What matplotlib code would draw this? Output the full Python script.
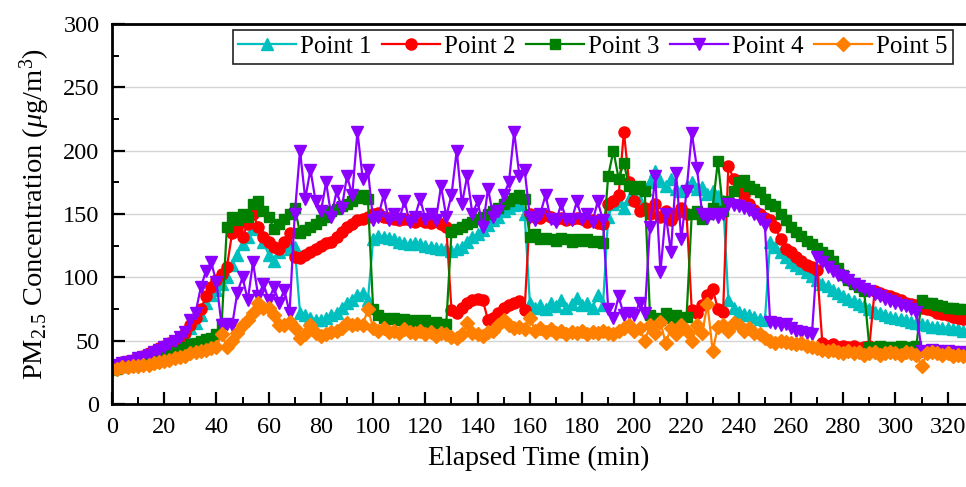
import matplotlib
matplotlib.use('Agg')
import matplotlib.pyplot as plt
from matplotlib.ticker import MultipleLocator
import numpy as np

plt.rcParams['font.family'] = ['Liberation Serif', 'DejaVu Serif']
plt.rcParams['mathtext.fontset'] = 'custom'
plt.rcParams['mathtext.rm'] = 'Liberation Serif'
plt.rcParams['mathtext.it'] = 'Liberation Serif:italic'

# time axis, one reading every 2 min
t = np.arange(0, 328, 2)

# PM2.5 readings (ug/m3)
point1 = [28, 29, 30, 31, 32, 33, 35, 36, 38, 40,
          42, 44, 47, 50, 55, 60, 64, 70, 80, 86,
          90, 95, 100, 110, 118, 126, 132, 138, 140, 128,
          118, 113, 120, 125, 122, 124, 72, 70, 68, 66,
          66, 68, 70, 72, 76, 80, 82, 86, 88, 82,
          130, 133, 132, 131, 130, 128, 127, 126, 127, 126,
          125, 124, 123, 122, 122, 121, 122, 124, 128, 132,
          134, 137, 141, 145, 148, 152, 155, 157, 158, 150,
          80, 76, 78, 75, 80, 77, 82, 76, 79, 84,
          78, 80, 76, 86, 78, 148, 158, 160, 155, 162,
          165, 160, 170, 175, 184, 176, 172, 178, 170, 168,
          172, 175, 170, 171, 166, 168, 164, 160, 82, 76,
          73, 71, 70, 69, 67, 66, 128, 124, 120, 116,
          112, 110, 107, 104, 101, 98, 95, 93, 90, 88,
          85, 83, 81, 79, 77, 75, 73, 72, 70, 69,
          68, 67, 66, 65, 64, 63, 62, 61, 61, 60,
          60, 59, 59, 58]

point2 = [30, 31, 33, 34, 35, 36, 38, 40, 42, 44,
          46, 48, 50, 53, 56, 62, 68, 75, 85, 92,
          98, 103, 108, 135, 138, 132, 142, 150, 140, 132,
          128, 124, 122, 128, 135, 116, 115, 118, 120, 122,
          125, 127, 128, 132, 136, 140, 142, 145, 146, 148,
          150, 151, 148, 147, 146, 145, 146, 145, 144, 145,
          144, 143, 145, 142, 140, 74, 72, 76, 80, 82,
          83, 82, 66, 68, 72, 76, 78, 80, 81, 74,
          150, 148, 147, 149, 148, 146, 147, 145, 146, 147,
          146, 144, 145, 143, 142, 158, 160, 165, 215, 175,
          160, 152, 155, 150, 158, 148, 152, 145, 150, 155,
          150, 74, 72, 78, 86, 91, 75, 73, 188, 178,
          172, 165, 158, 153, 150, 147, 145, 140, 130, 122,
          120, 116, 113, 110, 108, 106, 48, 46, 47, 45,
          46, 45, 46, 44, 45, 46, 89, 88, 86, 85,
          84, 82, 80, 79, 78, 76, 75, 74, 72, 71,
          70, 69, 68, 67]

point3 = [28, 28, 29, 30, 30, 31, 32, 33, 34, 36,
          37, 39, 41, 43, 45, 47, 48, 50, 51, 52,
          55, 63, 140, 148, 145, 150, 148, 158, 160, 152,
          148, 138, 142, 146, 150, 155, 135, 137, 140, 142,
          145, 148, 152, 154, 156, 158, 160, 163, 165, 162,
          75, 70, 68, 67, 68, 66, 67, 65, 66, 65,
          66, 64, 65, 63, 63, 136, 138, 140, 142, 144,
          146, 148, 150, 152, 155, 158, 160, 163, 165, 162,
          132, 134, 130, 131, 130, 129, 131, 130, 128, 130,
          129, 130, 128, 129, 127, 180, 200, 178, 190, 172,
          170, 172, 168, 70, 68, 66, 72, 68, 70, 67,
          69, 150, 152, 146, 150, 155, 192, 152, 160, 168,
          175, 177, 172, 170, 167, 162, 158, 156, 150, 145,
          140, 136, 133, 129, 126, 123, 120, 118, 113, 107,
          102, 98, 95, 92, 89, 45, 44, 46, 45, 44,
          45, 46, 44, 45, 46, 82, 80, 80, 78, 77,
          76, 76, 75, 75]

point4 = [30, 31, 32, 33, 34, 36, 37, 39, 41, 43,
          45, 47, 50, 53, 57, 66, 72, 92, 105, 112,
          96, 62, 63, 62, 88, 100, 82, 112, 85, 95,
          82, 92, 80, 90, 72, 150, 200, 162, 185, 160,
          152, 175, 148, 168, 155, 180, 165, 215, 178, 185,
          145, 148, 165, 145, 150, 146, 160, 144, 148, 162,
          146, 150, 145, 172, 148, 165, 200, 158, 180, 150,
          160, 140, 170, 148, 152, 165, 175, 215, 180, 185,
          148, 145, 150, 165, 146, 144, 158, 146, 145, 160,
          146, 150, 144, 160, 145, 75, 68, 85, 70, 72,
          70, 80, 72, 140, 180, 104, 150, 120, 182, 130,
          168, 214, 186, 150, 147, 150, 148, 150, 158, 157,
          156, 155, 153, 150, 146, 141, 65, 64, 62, 63,
          60, 58, 57, 56, 55, 116, 112, 108, 105, 102,
          100, 98, 95, 93, 91, 89, 87, 85, 83, 81,
          80, 78, 77, 75, 73, 42, 41, 43, 42, 41,
          42, 41, 40, 41]

point5 = [28, 28, 29, 29, 30, 30, 31, 31, 32, 33,
          34, 35, 36, 37, 38, 40, 41, 42, 43, 44,
          45, 55, 45, 50, 56, 62, 66, 72, 80, 76,
          76, 70, 62, 62, 65, 60, 52, 55, 62, 56,
          54, 55, 57, 58, 60, 64, 62, 63, 62, 75,
          60, 58, 60, 57, 58, 56, 59, 57, 56, 58,
          55, 57, 54, 56, 55, 53, 52, 55, 64, 56,
          55, 54, 57, 58, 62, 66, 62, 60, 61, 59,
          68, 58, 60, 57, 59, 56, 58, 55, 57, 56,
          58, 55, 57, 56, 58, 56, 55, 58, 60, 62,
          58, 60, 50, 62, 56, 65, 48, 60, 55, 62,
          58, 50, 62, 56, 79, 42, 61, 62, 58, 64,
          62, 58, 60, 56, 55, 52, 50, 48, 50, 49,
          48, 47, 48, 46, 45, 44, 43, 42, 43, 41,
          40, 42, 40, 41, 39, 40, 41, 39, 40, 41,
          40, 39, 41, 40, 39, 30, 40, 41, 40, 39,
          40, 38, 39, 38]

labels = ['Point 1', 'Point 2', 'Point 3', 'Point 4', 'Point 5']
colors = ['#00BFBF', '#FF0000', '#008000', '#8B00FF', '#FF8000']
markers = ['^', 'o', 's', 'v', 'D']
sizes = [8, 8, 7, 8, 7]

fig = plt.figure(figsize=(9.66, 4.87), dpi=100)
ax = fig.add_axes([0.1159, 0.1704, 0.8841, 0.7803])

for y, lab, c, m, ms in zip([point1, point2, point3, point4, point5], labels, colors, markers, sizes):
    ax.plot(t, y, color=c, lw=1.6, marker=m, ms=ms, markevery=1,
            mec=c, mfc=c, label=lab)

ax.set_xlim(0, 327)
ax.set_ylim(0, 300)
ax.xaxis.set_major_locator(MultipleLocator(20))
ax.xaxis.set_minor_locator(MultipleLocator(10))
ax.yaxis.set_major_locator(MultipleLocator(50))
ax.yaxis.set_minor_locator(MultipleLocator(25))
ax.tick_params(which='major', direction='in', length=9, width=1.6, labelsize=17.5, pad=9)
ax.tick_params(which='minor', direction='in', length=5, width=1.4)
ax.grid(True, axis='y', which='major', color='#d4d4d4', lw=1)
ax.set_axisbelow(True)

for s in ['left', 'bottom', 'top']:
    ax.spines[s].set_linewidth(2)
ax.spines['right'].set_visible(False)

ax.set_xlabel('Elapsed Time (min)', fontsize=20, labelpad=6)
ax.set_ylabel(r'PM$_{2.5}$ Concentration ($\mu$g/m$^3$)', fontsize=20.5, labelpad=8)

leg = ax.legend(loc='upper left', bbox_to_anchor=(0.1417, 0.984), ncol=5,
                fontsize=18, numpoints=1, handlelength=2.3, handletextpad=0.15,
                columnspacing=0.45, borderpad=0.22, borderaxespad=0,
                fancybox=False, framealpha=1, edgecolor='#222222')
leg.get_frame().set_linewidth(1.2)

fig.savefig('out.png', dpi=100)
